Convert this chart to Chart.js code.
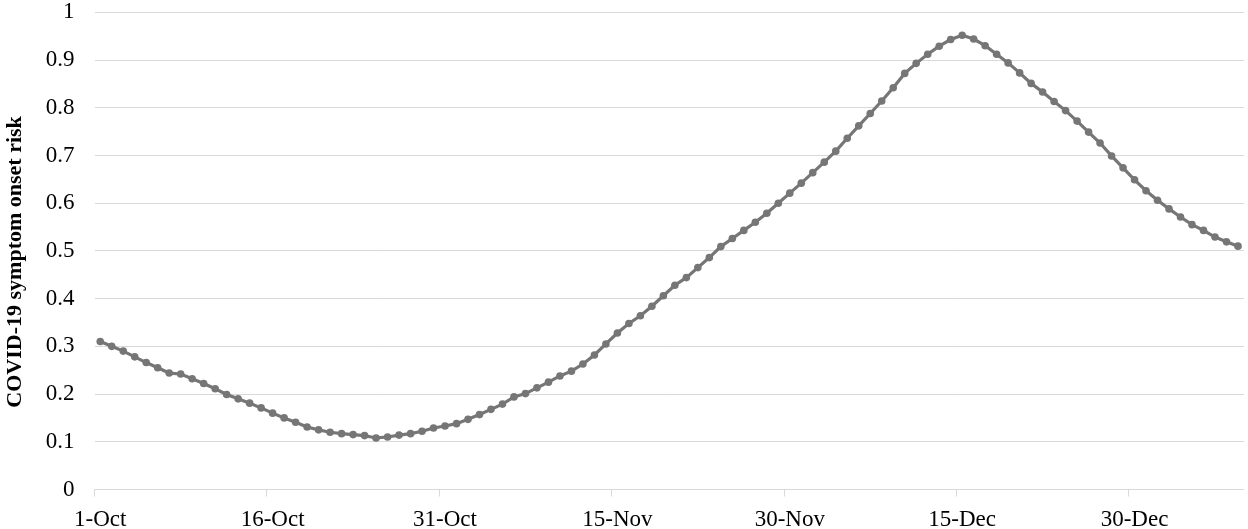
<!DOCTYPE html>
<html>
<head>
<meta charset="utf-8">
<script src="https://cdn.jsdelivr.net/npm/chart.js@4.4.1/dist/chart.umd.min.js"></script>
<style>
  html, body { margin: 0; padding: 0; background: #ffffff; }
  #wrap { width: 1248px; height: 529px; }
</style>
</head>
<body>
<div id="wrap"><canvas id="c" width="1248" height="529"></canvas></div>
<script>
// Daily categories, 1-Oct to 8-Jan
const dates = [
  '1-Oct','2-Oct','3-Oct','4-Oct','5-Oct','6-Oct','7-Oct','8-Oct','9-Oct','10-Oct',
  '11-Oct','12-Oct','13-Oct','14-Oct','15-Oct','16-Oct','17-Oct','18-Oct','19-Oct','20-Oct',
  '21-Oct','22-Oct','23-Oct','24-Oct','25-Oct','26-Oct','27-Oct','28-Oct','29-Oct','30-Oct','31-Oct',
  '1-Nov','2-Nov','3-Nov','4-Nov','5-Nov','6-Nov','7-Nov','8-Nov','9-Nov','10-Nov',
  '11-Nov','12-Nov','13-Nov','14-Nov','15-Nov','16-Nov','17-Nov','18-Nov','19-Nov','20-Nov',
  '21-Nov','22-Nov','23-Nov','24-Nov','25-Nov','26-Nov','27-Nov','28-Nov','29-Nov','30-Nov',
  '1-Dec','2-Dec','3-Dec','4-Dec','5-Dec','6-Dec','7-Dec','8-Dec','9-Dec','10-Dec',
  '11-Dec','12-Dec','13-Dec','14-Dec','15-Dec','16-Dec','17-Dec','18-Dec','19-Dec','20-Dec',
  '21-Dec','22-Dec','23-Dec','24-Dec','25-Dec','26-Dec','27-Dec','28-Dec','29-Dec','30-Dec','31-Dec',
  '1-Jan','2-Jan','3-Jan','4-Jan','5-Jan','6-Jan','7-Jan','8-Jan'
];

// COVID-19 symptom onset risk, one value per day
const risk = [
  0.310, 0.300, 0.290, 0.278, 0.266, 0.255, 0.244, 0.242, 0.232, 0.222,
  0.211, 0.199, 0.190, 0.181, 0.171, 0.160, 0.150, 0.141, 0.131, 0.125,
  0.120, 0.117, 0.115, 0.113, 0.108, 0.110, 0.114, 0.117, 0.122, 0.129,
  0.133, 0.138, 0.147, 0.157, 0.168, 0.179, 0.194, 0.201, 0.213, 0.225,
  0.238, 0.248, 0.263, 0.282, 0.305, 0.328, 0.348, 0.364, 0.384, 0.406,
  0.428, 0.444, 0.465, 0.486, 0.509, 0.526, 0.543, 0.560, 0.579, 0.600,
  0.621, 0.642, 0.664, 0.686, 0.709, 0.736, 0.762, 0.788, 0.814, 0.842,
  0.872, 0.893, 0.912, 0.929, 0.943, 0.952, 0.944, 0.930, 0.912, 0.894,
  0.873, 0.851, 0.833, 0.813, 0.794, 0.772, 0.749, 0.726, 0.699, 0.674,
  0.649, 0.626, 0.606, 0.588, 0.571, 0.555, 0.543, 0.529, 0.519, 0.510
];

// Labelled x ticks
const xTickLabels = ['1-Oct','16-Oct','31-Oct','15-Nov','30-Nov','15-Dec','30-Dec'];

const yTitle = 'COVID-19 symptom onset risk';
const yMin = 0, yMax = 1, yStep = 0.1;

const serif = "'Liberation Serif', 'Times New Roman', Times, serif";
const gridColor = '#d9d9d9';
const lineColor = '#767676';

const isLabelled = (i) => i < dates.length && xTickLabels.includes(dates[i]);

new Chart(document.getElementById('c'), {
  type: 'line',
  data: {
    labels: dates,
    datasets: [{
      data: risk,
      borderColor: lineColor,
      backgroundColor: lineColor,
      borderWidth: 3.2,
      pointRadius: 3.8,
      pointBorderWidth: 0,
      pointBackgroundColor: lineColor,
      tension: 0,
      fill: false
    }]
  },
  options: {
    responsive: false,
    animation: false,
    devicePixelRatio: 1,
    layout: { padding: { top: 0, right: 3, left: 0, bottom: 0 } },
    plugins: { legend: { display: false }, tooltip: { enabled: false } },
    scales: {
      x: {
        type: 'category',
        offset: true,
        border: { display: true, color: gridColor, width: 1 },
        grid: {
          offset: true,
          drawOnChartArea: false,
          drawTicks: true,
          tickLength: 7,
          color: (ctx) => isLabelled(ctx.index) ? gridColor : 'rgba(0,0,0,0)',
          lineWidth: 1
        },
        ticks: {
          autoSkip: false,
          maxRotation: 0,
          minRotation: 0,
          padding: 10,
          color: '#000',
          font: { family: serif, size: 23 },
          callback: function (value, index) {
            return isLabelled(index) ? dates[index] : '';
          }
        },
        afterFit: (s) => { s.height = 39.5; }
      },
      y: {
        min: yMin,
        max: yMax,
        border: { display: false },
        grid: { color: gridColor, lineWidth: 1, drawTicks: false },
        ticks: {
          stepSize: yStep,
          padding: 20,
          color: '#000',
          font: { family: serif, size: 23, lineHeight: 1 },
          callback: (v) => String(Math.round(v * 10) / 10)
        },
        title: {
          display: true,
          text: yTitle + '    ',
          color: '#000',
          font: { family: serif, size: 22, weight: 'bold' },
          padding: { top: 2, bottom: 0 }
        },
        afterFit: (s) => { s.width = 94.5; s.paddingTop = 12.3; s.paddingBottom = 0; }
      }
    }
  }
});
</script>
</body>
</html>
